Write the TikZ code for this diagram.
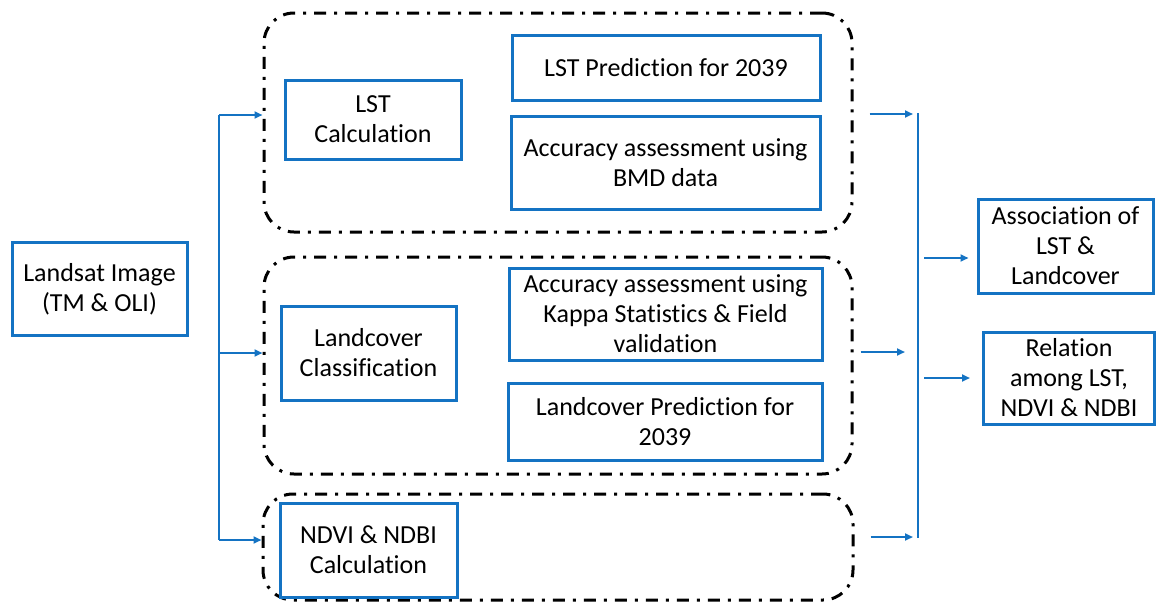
\documentclass[tikz,border=0pt]{standalone}
\usepackage{fontspec}
\setmainfont{Carlito}[RawFeature={-liga;-clig;-calt}]
\usetikzlibrary{arrows.meta}
\definecolor{boxblue}{RGB}{20,115,195}

\tikzset{
  box/.style={draw=boxblue, line width=1.5pt, align=center, inner sep=0pt,
    font=\fontsize{13}{15}\selectfont},
  group/.style={draw=black, line width=1.5pt, rounded corners=15pt,
    dash pattern=on 6pt off 4pt on 1.5pt off 4pt, inner sep=0pt},
  wire/.style={draw=boxblue, line width=1pt},
  link/.style={wire, -{Triangle[length=4pt,width=3.5pt]}},
}

\begin{document}
\begin{tikzpicture}[x=0.5pt,y=-0.5pt]
  \useasboundingbox (0,0) rectangle (1157,605);

  % dash-dot groups
  \node[group, minimum width=294pt, minimum height=109.5pt] (lstgrp) at (558,122.5) {};
  \node[group, minimum width=294pt, minimum height=108.5pt] (lcgrp)  at (558,365.5) {};
  \node[group, minimum width=295pt, minimum height=53pt]    (idxgrp) at (558,547)   {};

  % boxes
  \node[box, minimum width=87.5pt, minimum height=46.5pt] (landsat) at (99.5,289)   {Landsat Image\\(TM \& OLI)};
  \node[box, minimum width=88pt,   minimum height=39.5pt] (lstcalc) at (373,119.5)  {LST\\Calculation};
  \node[box, minimum width=154pt,  minimum height=32.5pt] (lstpred) at (666,67.5)   {LST Prediction for 2039};
  \node[box, minimum width=154.5pt,minimum height=46.5pt] (bmd)     at (665.5,162.5){Accuracy assessment using\\BMD data};
  \node[box, minimum width=87.5pt, minimum height=47pt]   (lccls)   at (368.5,353)  {Landcover\\Classification};
  \node[box, minimum width=156.5pt,minimum height=46pt]   (kappa)   at (665.5,314)  {Accuracy assessment using\\Kappa Statistics \& Field\\validation};
  \node[box, minimum width=157pt,  minimum height=38.5pt] (lcpred)  at (665,421.5)  {Landcover Prediction for\\2039};
  \node[box, minimum width=88.5pt, minimum height=47pt]   (ndvi)    at (368.5,550)  {NDVI \& NDBI\\Calculation};
  \node[box, minimum width=87.5pt, minimum height=47pt]   (assoc)   at (1065.5,246) {Association of\\LST \&\\Landcover};
  \node[box, minimum width=85.5pt, minimum height=46pt]   (relation) at (1069,378)  {Relation\\among LST,\\NDVI \& NDBI};

  % left bracket
  \coordinate (l1) at (219,115);
  \coordinate (l2) at (219,353);
  \coordinate (l3) at (219,540);
  \draw[wire] (l1) -- (l3);
  \path
    (l1) edge[link] (lstgrp.west |- l1)
    (l2) edge[link] (lcgrp.west |- l2)
    (l3) edge[link] (idxgrp.west |- l3);

  % right bracket
  \coordinate (r1) at (918,114);
  \coordinate (r2) at (918,352);
  \coordinate (r3) at (918,537);
  \coordinate (r4) at (918,258);
  \coordinate (r5) at (918,378);
  \draw[wire] (918,113) -- (918,538);
  \path
    (lstgrp.east |- r1) edge[link, shorten <=8pt, shorten >=2.5pt] (r1)
    (lcgrp.east |- r2)  edge[link, shorten <=3.5pt, shorten >=6.5pt] (r2)
    (idxgrp.east |- r3) edge[link, shorten <=8pt, shorten >=2.5pt] (r3)
    (r4) edge[link, shorten <=3pt, shorten >=4pt] (assoc.west |- r4)
    (r5) edge[link, shorten <=3pt, shorten >=6pt] (relation.west |- r5);
\end{tikzpicture}
\end{document}
